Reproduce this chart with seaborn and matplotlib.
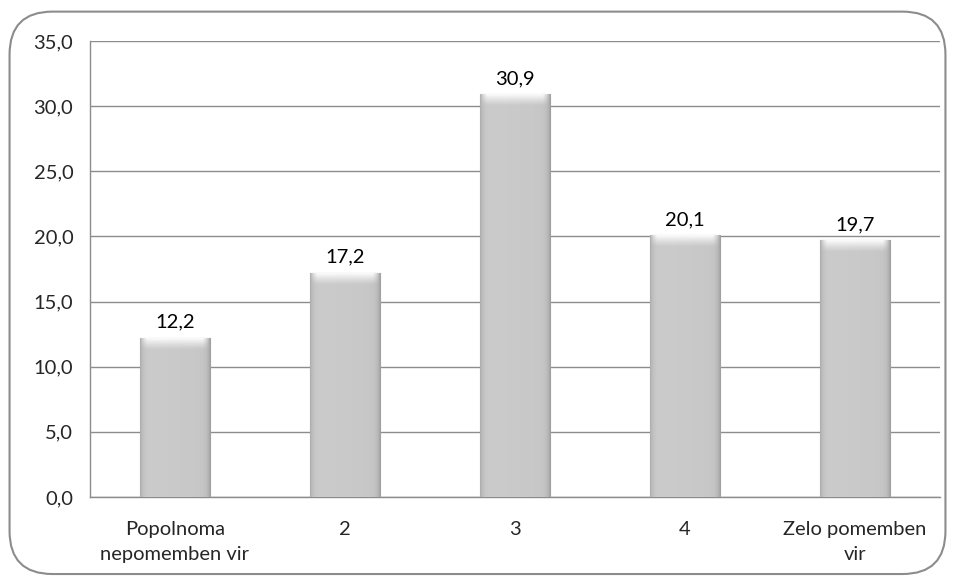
import numpy as np
import pandas as pd
import matplotlib
matplotlib.use('Agg')
import matplotlib.pyplot as plt
from matplotlib.patches import FancyBboxPatch
import seaborn as sns

# Data
categories = ['Popolnoma\nnepomemben vir', '2', '3', '4', 'Zelo pomemben\nvir']
values = [12.2, 17.2, 30.9, 20.1, 19.7]
y_ticks = [0, 5, 10, 15, 20, 25, 30, 35]

sns.set_style('white')
plt.rcParams['font.family'] = ['Lato', 'DejaVu Sans']
FS = 14.5

df = pd.DataFrame({'cat': categories, 'val': values})

fig = plt.figure(figsize=(9.55, 5.81), dpi=100)

# rounded outer border
border = FancyBboxPatch((0.010, 0.012), 0.980, 0.968,
                        boxstyle='round,pad=0,rounding_size=0.045',
                        transform=fig.transFigure, facecolor='none',
                        edgecolor='#8c8c8c', linewidth=1.5, mutation_aspect=955 / 581)
fig.patches.append(border)

ax = fig.add_axes([0.0942, 0.1446, 0.890, 0.785])
ax.set_facecolor('none')

sns.barplot(data=df, x='cat', y='val', color='#c8c8c8', width=0.41,
            saturation=1, ax=ax, zorder=3)

# cylinder-like shading on the bars
gx = np.linspace(0, 1, 256)
edge = np.minimum(gx, 1 - gx)
shade = 0.80 - 0.13 * np.exp(-edge / 0.04) - 0.02 * gx
img = np.dstack([shade, shade, shade]).repeat(2, axis=0)

# top highlight (white fading downward)
gy = np.linspace(0, 1, 64)[:, None]
side = np.clip(np.minimum(gx, 1 - gx)[None, :] / 0.10, 0, 1)
alpha = np.clip(1 - gy, 0, 1) ** 1.2 * 0.95 * side
hl = np.zeros((64, 256, 4))
hl[..., :3] = 1.0
hl[..., 3] = alpha

for p in list(ax.patches):
    x0, y0 = p.get_x(), p.get_y()
    w, h = p.get_width(), p.get_height()
    im = ax.imshow(img, extent=[x0, x0 + w, y0, y0 + h], aspect='auto',
                   zorder=4, interpolation='bilinear')
    im.set_clip_path(p)
    im2 = ax.imshow(hl, extent=[x0, x0 + w, y0 + h - 0.9, y0 + h], aspect='auto',
                    zorder=5, interpolation='bilinear', origin='upper')
    im2.set_clip_path(p)
    p.set_edgecolor('#a0a0a0')
    p.set_linewidth(0.8)
    ax.text(x0 + w / 2, y0 + h + 0.55, f'{h:.1f}'.replace('.', ','),
            ha='center', va='bottom', fontsize=FS, color='black', zorder=6)

ax.set_ylim(0, 35)
ax.set_xlim(-0.5, 4.5)
ax.set_yticks(y_ticks)
ax.set_yticklabels([f'{v:.1f}'.replace('.', ',') for v in y_ticks], fontsize=FS)
ax.yaxis.grid(True, color='#8c8c8c', linewidth=1, zorder=0)
ax.set_axisbelow(True)

# x ticks at category boundaries, labels centred
ax.set_xticks(np.arange(len(categories)))
ax.set_xticklabels(categories, fontsize=FS, linespacing=1.6)
ax.set_xticks(np.arange(-0.5, len(categories)), minor=True)
ax.tick_params(axis='x', which='major', length=0, pad=17)
ax.tick_params(axis='x', which='minor', length=6, color='#8c8c8c', width=1, direction='out')
ax.tick_params(axis='y', length=6, color='#8c8c8c', width=1, direction='out', pad=6)
ax.set_xlabel('')
ax.set_ylabel('')

for s in ['top', 'right']:
    ax.spines[s].set_visible(False)
for s in ['left', 'bottom']:
    ax.spines[s].set_color('#8c8c8c')
    ax.spines[s].set_linewidth(1)

fig.savefig('out.png', dpi=100)
